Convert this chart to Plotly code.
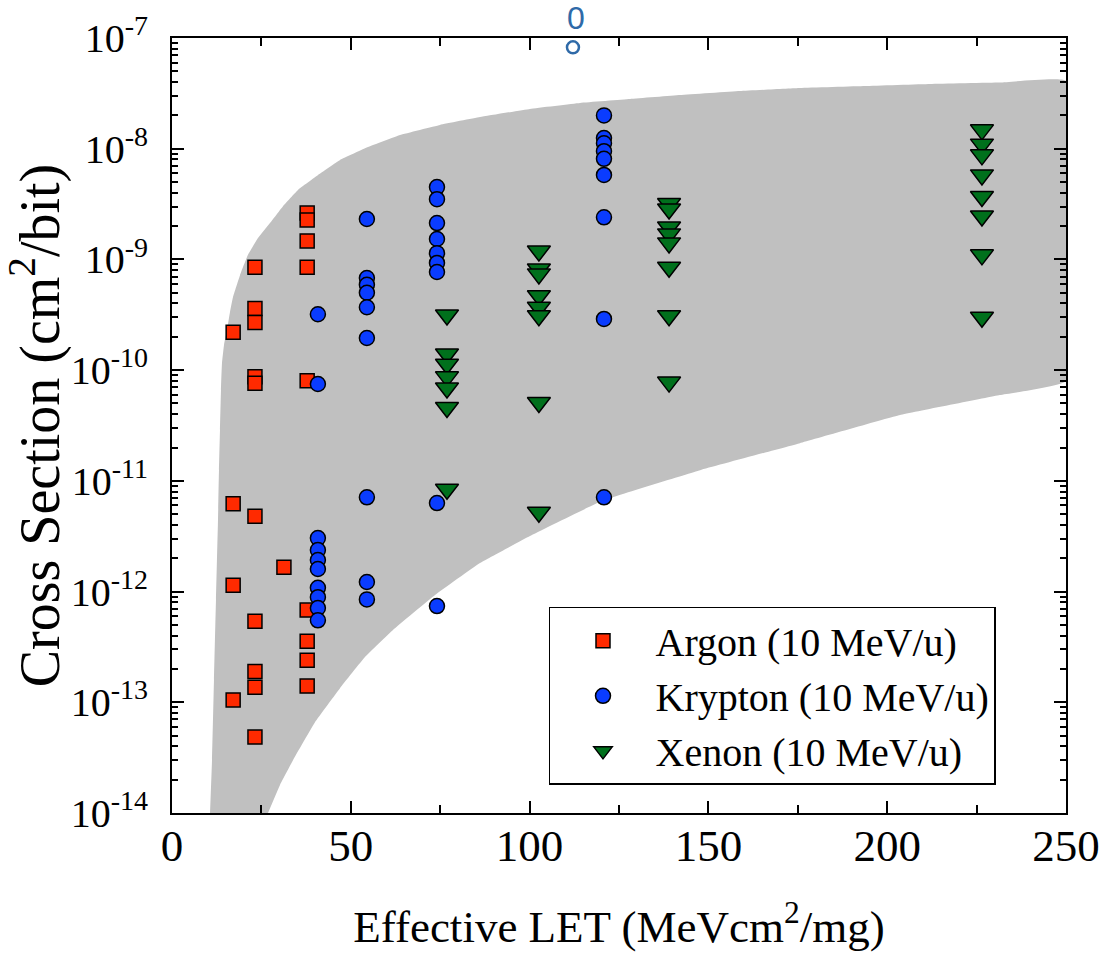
import plotly.graph_objects as go

# ---- data ----
argon_let = [17.1, 17.1, 17.1, 17.1,
             23.2, 23.2, 23.2, 23.2, 23.2, 23.2, 23.2, 23.2, 23.2, 23.2,
             31.3,
             37.8, 37.8, 37.8, 37.8, 37.8, 37.8, 37.8, 37.8, 37.8]
argon_xs = [2.2e-10, 6.2e-12, 1.14e-12, 1.05e-13,
            8.5e-10, 3.6e-10, 2.7e-10, 8.7e-11, 7.6e-11, 4.8e-12, 5.4e-13, 1.9e-13, 1.37e-13, 4.85e-14,
            1.66e-12,
            2.62e-9, 2.27e-9, 1.47e-9, 8.5e-10, 8.0e-11, 6.8e-13, 3.55e-13, 2.4e-13, 1.4e-13]

krypton_let = [40.8] * 10 + [54.5] * 9 + [74.1] * 9 + [120.8] * 9
krypton_xs = [3.2e-10, 7.5e-11, 3.04e-12, 2.37e-12, 1.93e-12, 1.6e-12, 1.08e-12, 8.9e-13, 7.1e-13, 5.5e-13,
              2.32e-9, 6.8e-10, 5.9e-10, 5.0e-10, 3.7e-10, 1.95e-10, 7.1e-12, 1.22e-12, 8.5e-13,
              4.5e-9, 3.5e-9, 2.13e-9, 1.53e-9, 1.14e-9, 9.3e-10, 7.7e-10, 6.3e-12, 7.4e-13,
              2.0e-8, 1.25e-8, 1.12e-8, 9.5e-9, 8.1e-9, 5.8e-9, 2.4e-9, 2.9e-10, 7.1e-12]

xenon_let = [76.9] * 7 + [102.6] * 8 + [139.0] * 8 + [226.5] * 8
xenon_xs = [3.15e-10, 1.4e-10, 1.13e-10, 8.7e-11, 6.9e-11, 4.6e-11, 8.4e-12,
            1.19e-9, 8.2e-10, 7.4e-10, 4.7e-10, 3.7e-10, 3.1e-10, 5.1e-11, 5.2e-12,
            3.2e-9, 2.85e-9, 1.96e-9, 1.7e-9, 1.41e-9, 8.5e-10, 3.1e-10, 7.8e-11,
            1.48e-8, 1.1e-8, 8.8e-9, 5.8e-9, 3.7e-9, 2.47e-9, 1.1e-9, 3.0e-10]

# grey envelope, boundary points
band_upper_let = [10.63, 11.19, 11.74, 12.30, 12.86, 13.14, 13.42, 13.70, 13.98, 14.54, 15.38,
                  16.22, 17.06, 19.02, 21.25, 24.05, 27.40, 31.04, 35.23, 40.83, 46.98, 54.81,
                  63.76, 74.94, 86.13, 100.1, 114.1, 128.1, 142.1, 158.8, 175.6, 193.8, 212.0,
                  231.5, 250.0]
band_upper_xs = [1e-14, 3.0e-14, 1.59e-13, 8.4e-13, 4.43e-12, 1.25e-11, 2.88e-11, 6.6e-11, 1.16e-10,
                 1.69e-10, 2.30e-10, 3.35e-10, 4.57e-10, 7.2e-10, 1.10e-9, 1.56e-9, 2.13e-9, 3.03e-9,
                 4.24e-9, 5.78e-9, 7.9e-9, 1.035e-8, 1.33e-8, 1.64e-8, 1.93e-8, 2.29e-8, 2.59e-8,
                 2.81e-8, 3.05e-8, 3.32e-8, 3.53e-8, 3.68e-8, 3.84e-8, 3.96e-8, 4.09e-8]
band_lower_let = [250.0, 231.5, 203.6, 175.6, 147.7, 120.8, 100.1, 86.13, 73.55, 61.8, 53.97,
                  46.98, 39.99, 33.84, 30.20, 26.85]
band_lower_xs = [7.98e-11, 5.96e-11, 3.93e-11, 2.19e-11, 1.25e-11, 6.7e-12, 3.17e-12, 1.81e-12,
                 9.3e-13, 4.49e-13, 2.56e-13, 1.34e-13, 6.6e-14, 3.0e-14, 1.79e-14, 1e-14]

y_tick_vals = [1e-14, 1e-13, 1e-12, 1e-11, 1e-10, 1e-9, 1e-8, 1e-7]
y_tick_text = ["10<sup>-14</sup>", "10<sup>-13</sup>", "10<sup>-12</sup>", "10<sup>-11</sup>",
               "10<sup>-10</sup>", "10<sup>-9</sup>", "10<sup>-8</sup>", "10<sup>-7</sup>"]

FONT = "Times New Roman, Liberation Serif, serif"

fig = go.Figure()

fig.add_trace(go.Scatter(
    x=band_upper_let + band_lower_let,
    y=band_upper_xs + band_lower_xs,
    mode="lines", fill="toself", fillcolor="#c0c0c0",
    line=dict(width=0, shape="spline", smoothing=0.3),
    showlegend=False, hoverinfo="skip"))

fig.add_trace(go.Scatter(
    x=argon_let, y=argon_xs, mode="markers", name="Argon (10 MeV/u)",
    marker=dict(symbol="square", size=14, color="#ff2a00", line=dict(color="black", width=1.5))))
fig.add_trace(go.Scatter(
    x=krypton_let, y=krypton_xs, mode="markers", name="Krypton (10 MeV/u)",
    marker=dict(symbol="circle", size=15, color="#0a3cff", line=dict(color="black", width=1.5))))
fig.add_trace(go.Scatter(
    x=xenon_let, y=xenon_xs, mode="markers", name="Xenon (10 MeV/u)",
    marker=dict(symbol="triangle-down", size=20, color="#00701c", line=dict(color="black", width=1.5))))

axis_common = dict(
    showline=True, linecolor="black", linewidth=2, mirror="allticks",
    ticks="inside", tickcolor="black", tickwidth=2, ticklen=12,
    showgrid=False, zeroline=False, automargin=False,
)

fig.update_xaxes(
    range=[0, 250], tickmode="linear", tick0=0, dtick=50,
    minor=dict(ticks="inside", ticklen=8, tickcolor="black", tickwidth=2, dtick=25, tick0=0, showgrid=False),
    tickfont=dict(family=FONT, size=45, color="black"),
    title=dict(text="Effective LET (MeVcm<sup>2</sup>/mg)", font=dict(family=FONT, size=45, color="black"),
               standoff=40),
    ticklabelstandoff=-8,
    **axis_common)

fig.update_yaxes(
    type="log", range=[-14, -7], tickmode="array", tickvals=y_tick_vals, ticktext=y_tick_text,
    minor=dict(ticks="inside", ticklen=6, tickcolor="black", tickwidth=1.5, dtick="D1", showgrid=False),
    tickfont=dict(family=FONT, size=40, color="black"),
    title=dict(text="Cross Section (cm<sup>2</sup>/bit)", font=dict(family=FONT, size=56, color="black"),
               standoff=14),
    ticklabelstandoff=14,
    **axis_common)

fig.update_layout(
    width=1103, height=958,
    margin=dict(l=172, r=37, t=38, b=145),
    paper_bgcolor="white", plot_bgcolor="white",
    font=dict(family=FONT, color="black"),
    legend=dict(
        x=0.4217, y=0.266, xanchor="left", yanchor="top",
        bgcolor="white", bordercolor="black", borderwidth=1.5,
        font=dict(family=FONT, size=40, color="black"),
        itemwidth=95, tracegroupgap=0,
    ),
    annotations=[dict(
        text="0", xref="paper", yref="paper", x=0.452, y=1.026,
        xanchor="center", yanchor="middle", showarrow=False,
        font=dict(family="Liberation Sans", size=32, color="#2f6aa8"))],
    shapes=[dict(
        type="circle", xref="paper", yref="paper",
        x0=0.4485 - 0.0067, x1=0.4485 + 0.0067, y0=0.988 - 0.0077, y1=0.988 + 0.0077,
        line=dict(color="#2f6aa8", width=2.5), fillcolor="rgba(0,0,0,0)")],
)

fig.write_html("out.html")
